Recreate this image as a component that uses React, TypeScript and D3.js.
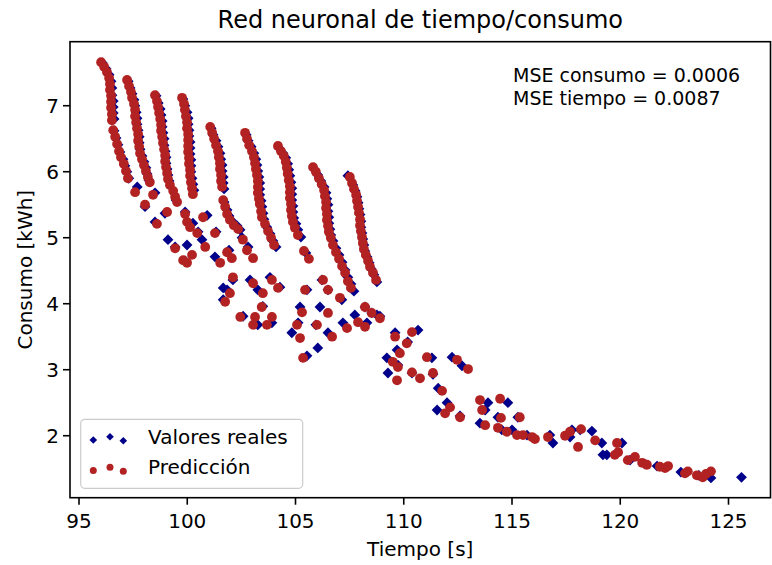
import React from "react";
import * as d3 from "d3";

// ---- Data (tiempo [s], consumo [kWh]) ----
const realStreakPoints: [number, number][] = [
  [96.07, 7.65], [96.25, 7.56], [96.39, 7.47], [96.48, 7.37], [96.52, 7.27], [96.52, 7.16], [96.58, 7.07], [96.58, 6.98], [96.58, 6.89], [96.62, 6.8], [96.62, 6.62], [96.71, 6.51], [96.8, 6.41], [96.89, 6.3], [97.03, 6.19], [97.12, 6.09], [97.21, 6.0], [97.3, 5.9],
  [97.27, 7.37], [97.36, 7.27], [97.45, 7.18], [97.54, 7.09], [97.58, 7.0], [97.64, 6.9], [97.68, 6.81], [97.68, 6.72], [97.73, 6.63], [97.78, 6.53], [97.78, 6.44], [97.82, 6.34], [97.91, 6.24], [98.0, 6.15], [98.09, 6.06], [98.14, 5.97], [98.23, 5.87],
  [98.56, 7.15], [98.66, 7.04], [98.75, 6.95], [98.79, 6.86], [98.84, 6.77], [98.84, 6.68], [98.88, 6.59], [98.93, 6.5], [98.93, 6.4], [98.98, 6.31], [99.02, 6.22], [99.02, 6.13], [99.07, 6.04], [99.11, 5.95], [99.16, 5.86],
  [99.8, 7.1], [99.89, 7.0], [99.99, 6.9], [100.04, 6.81], [100.04, 6.72], [100.08, 6.63], [100.08, 6.54], [100.13, 6.45], [100.13, 6.36], [100.13, 6.27], [100.17, 6.18], [100.17, 6.09], [100.17, 6.0], [100.22, 5.9], [100.26, 5.81], [100.31, 5.72],
  [101.1, 6.66], [101.19, 6.56], [101.33, 6.47], [101.42, 6.38], [101.51, 6.28], [101.55, 6.19], [101.61, 6.1], [101.61, 6.01], [101.66, 5.92], [101.66, 5.83], [101.7, 5.74], [101.7, 5.54], [101.84, 5.42], [101.93, 5.33], [102.11, 5.24], [102.3, 5.18], [102.44, 5.12], [102.53, 5.0], [102.81, 4.86],
  [102.72, 6.56], [102.81, 6.47], [102.95, 6.38], [103.08, 6.28], [103.17, 6.19], [103.22, 6.1], [103.26, 6.01], [103.31, 5.92], [103.35, 5.83], [103.35, 5.74], [103.35, 5.65], [103.41, 5.56], [103.45, 5.47], [103.5, 5.37], [103.54, 5.28], [103.68, 5.16], [103.82, 5.06], [103.96, 4.95], [104.1, 4.86],
  [104.23, 6.36], [104.42, 6.28], [104.55, 6.21], [104.64, 6.12], [104.69, 6.03], [104.74, 5.94], [104.79, 5.84], [104.83, 5.75], [104.83, 5.66], [104.83, 5.57], [104.88, 5.48], [104.88, 5.39], [104.92, 5.3], [105.02, 5.21], [105.11, 5.12], [105.25, 5.01], [105.48, 4.77],
  [105.85, 6.04], [106.03, 5.95], [106.17, 5.86], [106.32, 5.77], [106.41, 5.68], [106.45, 5.59], [106.5, 5.5], [106.5, 5.4], [106.54, 5.31], [106.54, 5.22], [106.59, 5.13], [106.63, 5.04], [106.73, 4.95], [106.87, 4.84], [107.01, 4.74], [107.15, 4.63], [107.29, 4.51], [107.42, 4.4], [107.56, 4.3], [107.7, 4.19],
  [107.42, 5.94], [107.65, 5.8], [107.75, 5.71], [107.84, 5.62], [107.89, 5.53], [107.93, 5.44], [107.98, 5.35], [108.02, 5.25], [108.02, 5.16], [108.07, 5.07], [108.11, 4.98], [108.16, 4.89], [108.2, 4.8], [108.3, 4.71], [108.4, 4.62], [108.49, 4.53], [108.62, 4.44], [108.76, 4.33],
];

const realScatterPoints: [number, number][] = [
  [97.69, 5.77], [98.51, 5.68], [98.05, 5.47], [98.97, 5.37], [98.51, 5.24], [99.11, 4.97], [99.48, 5.57], [99.9, 5.39], [100.26, 5.22], [100.5, 5.09],
  [100.68, 4.97], [99.99, 4.89], [100.92, 5.34], [101.33, 5.09], [101.28, 4.71], [101.93, 4.81], [102.11, 4.36], [101.66, 4.24], [101.66, 4.06], [102.9, 4.36],
  [103.26, 4.21], [103.82, 4.4], [104.28, 4.25], [102.58, 3.81], [103.26, 3.68], [103.91, 3.71], [105.21, 3.95], [104.83, 3.56], [106.13, 3.95], [106.5, 3.56],
  [106.22, 4.36], [105.53, 4.21], [106.03, 3.33], [105.53, 3.21], [106.5, 4.21], [107.14, 4.06], [105.12, 3.71], [107.19, 3.71], [107.74, 3.83], [108.3, 3.71],
  [109.6, 3.56], [110.66, 3.6], [108.76, 3.83], [108.9, 3.81], [110.18, 3.42], [109.69, 3.3], [109.22, 3.18], [109.73, 3.07], [109.27, 2.95], [110.38, 2.95],
  [111.3, 3.18], [111.35, 2.93], [112.23, 3.19], [112.69, 3.06], [111.59, 2.72], [112.0, 2.5], [111.54, 2.39], [113.89, 2.5], [113.76, 2.39], [113.52, 2.19],
  [114.81, 2.5], [114.35, 2.28], [115.27, 2.28], [114.53, 2.09], [115.0, 2.09], [115.69, 2.01], [116.75, 2.01], [116.89, 1.89], [117.68, 1.98], [117.77, 2.09],
  [118.69, 2.07], [119.15, 1.89], [120.08, 1.89], [119.2, 1.71], [119.38, 1.71], [121.7, 1.54], [122.8, 1.45], [124.19, 1.36], [125.6, 1.37], [99.9, 4.65],
  [103.49, 3.96], [105.94, 3.68], [112.6, 2.3], [120.45, 1.63], [121.14, 1.57], [123.63, 1.4], [108.21, 3.95], [108.52, 3.86], [118.15, 2.09], [101.84, 4.21], [99.44, 4.86],
];

const predStreakPoints: [number, number][] = [
  [96.02, 7.66], [96.16, 7.59], [96.29, 7.51], [96.39, 7.42], [96.43, 7.33], [96.43, 7.24], [96.48, 7.15], [96.48, 7.06], [96.48, 6.97], [96.52, 6.87], [96.52, 6.78], [96.58, 6.63], [96.67, 6.53], [96.76, 6.42], [96.85, 6.31], [96.94, 6.22], [97.07, 6.12], [97.17, 6.01], [97.26, 5.9],
  [97.22, 7.39], [97.31, 7.3], [97.4, 7.21], [97.45, 7.12], [97.54, 7.03], [97.59, 6.94], [97.59, 6.84], [97.64, 6.75], [97.68, 6.66], [97.73, 6.57], [97.73, 6.47], [97.78, 6.38], [97.82, 6.28], [97.91, 6.19], [98.0, 6.1], [98.09, 6.01], [98.18, 5.92], [98.27, 5.84],
  [98.51, 7.16], [98.6, 7.07], [98.65, 6.98], [98.7, 6.89], [98.75, 6.8], [98.79, 6.71], [98.79, 6.62], [98.84, 6.53], [98.88, 6.44], [98.93, 6.34], [98.98, 6.25], [98.98, 6.16], [99.02, 6.07], [99.07, 5.98], [99.11, 5.89], [99.2, 5.8], [99.35, 5.71], [99.44, 5.62],
  [99.76, 7.12], [99.85, 7.03], [99.89, 6.94], [99.94, 6.84], [99.99, 6.75], [99.99, 6.66], [100.04, 6.57], [100.04, 6.48], [100.04, 6.39], [100.04, 6.3], [100.08, 6.21], [100.08, 6.12], [100.13, 6.03], [100.13, 5.94], [100.17, 5.84], [100.22, 5.75], [100.26, 5.66],
  [101.06, 6.68], [101.15, 6.59], [101.24, 6.5], [101.33, 6.4], [101.42, 6.31], [101.46, 6.22], [101.51, 6.13], [101.51, 6.04], [101.56, 5.95], [101.56, 5.86], [101.61, 5.77], [101.66, 5.57], [101.75, 5.47], [101.84, 5.36], [101.97, 5.27], [102.15, 5.19], [102.35, 5.13], [102.57, 4.97], [102.76, 4.81], [103.04, 4.69],
  [102.67, 6.59], [102.76, 6.5], [102.86, 6.4], [102.99, 6.31], [103.08, 6.22], [103.13, 6.13], [103.17, 6.04], [103.22, 5.95], [103.26, 5.86], [103.26, 5.77], [103.26, 5.68], [103.31, 5.59], [103.35, 5.51], [103.41, 5.4], [103.45, 5.31], [103.59, 5.21], [103.73, 5.1], [103.87, 5.0], [104.01, 4.89],
  [104.19, 6.39], [104.33, 6.31], [104.46, 6.24], [104.55, 6.15], [104.6, 6.06], [104.64, 5.97], [104.69, 5.87], [104.74, 5.78], [104.74, 5.69], [104.74, 5.6], [104.79, 5.51], [104.79, 5.42], [104.83, 5.33], [104.88, 5.24], [104.97, 5.15], [105.11, 5.04], [105.39, 4.8], [105.62, 4.68],
  [105.81, 6.07], [105.94, 6.0], [106.08, 5.9], [106.21, 5.81], [106.32, 5.72], [106.36, 5.63], [106.41, 5.54], [106.41, 5.45], [106.45, 5.36], [106.45, 5.27], [106.5, 5.18], [106.54, 5.09], [106.63, 5.0], [106.73, 4.89], [106.87, 4.78], [107.01, 4.68], [107.15, 4.57], [107.29, 4.47], [107.42, 4.34], [107.56, 4.24],
  [107.51, 5.92], [107.61, 5.83], [107.7, 5.74], [107.8, 5.65], [107.84, 5.56], [107.89, 5.47], [107.93, 5.38], [107.98, 5.28], [107.98, 5.19], [108.02, 5.1], [108.07, 5.01], [108.11, 4.92], [108.16, 4.83], [108.25, 4.74], [108.35, 4.65], [108.44, 4.56], [108.58, 4.47], [108.72, 4.36],
];

const predScatterPoints: [number, number][] = [
  [97.59, 5.69], [98.42, 5.65], [98.05, 5.5], [99.07, 5.39], [98.6, 5.21], [99.44, 4.84], [99.53, 5.54], [99.9, 5.36], [99.99, 5.24], [100.13, 5.16],
  [100.46, 5.07], [100.83, 4.86], [100.22, 4.74], [99.81, 4.66], [99.99, 4.62], [100.73, 5.31], [101.28, 5.07], [101.52, 4.62], [101.84, 4.78], [102.06, 4.69],
  [102.11, 4.4], [101.97, 4.16], [101.75, 4.03], [103.04, 4.31], [103.49, 4.16], [103.91, 4.36], [104.19, 4.24], [102.45, 3.8], [103.13, 3.8], [103.04, 3.68],
  [103.91, 3.8], [103.68, 3.68], [103.44, 3.95], [105.3, 3.87], [105.07, 3.68], [105.21, 3.48], [105.99, 3.68], [106.27, 4.36], [105.44, 4.21], [105.35, 3.18],
  [106.5, 4.21], [107.05, 4.09], [106.5, 3.86], [106.69, 3.5], [107.38, 3.63], [107.89, 3.72], [108.21, 3.65], [109.6, 3.5], [110.38, 3.57], [108.21, 3.95],
  [108.52, 3.86], [108.9, 3.78], [110.14, 3.4], [109.82, 3.25], [109.49, 3.12], [109.73, 3.04], [109.69, 2.84], [110.38, 2.96], [110.75, 2.87], [111.07, 3.19],
  [111.35, 2.95], [112.46, 3.15], [112.97, 3.01], [111.77, 2.68], [112.14, 2.43], [111.91, 2.34], [112.6, 2.28], [113.52, 2.54], [113.62, 2.39], [113.76, 2.16],
  [114.45, 2.56], [114.49, 2.27], [115.36, 2.28], [114.35, 2.12], [114.76, 2.06], [115.23, 2.01], [115.51, 2.01], [115.93, 1.98], [116.06, 1.95], [116.66, 1.98],
  [117.45, 2.0], [117.68, 2.06], [118.05, 1.83], [118.19, 2.1], [118.84, 1.93], [119.85, 1.89], [119.75, 1.71], [119.9, 1.75], [120.35, 1.63], [120.68, 1.68],
  [121.01, 1.59], [121.23, 1.56], [121.83, 1.53], [122.07, 1.51], [122.21, 1.54], [122.99, 1.43], [123.12, 1.46], [123.54, 1.4], [123.81, 1.37], [123.96, 1.42],
  [124.19, 1.46],
];

const xTicks = [95, 100, 105, 110, 115, 120, 125];
const yTicks = [2, 3, 4, 5, 6, 7];
const titleText = "Red neuronal de tiempo/consumo";
const xLabel = "Tiempo [s]";
const yLabel = "Consumo [kWh]";
const mseLines = ["MSE consumo = 0.0006", "MSE tiempo = 0.0087"];
const legendLabels = ["Valores reales", "Predicción"];

const BLUE = "#00008b";
const RED = "#b22222";
const FONT = "'DejaVu Sans', sans-serif";

export default function App() {
  const W = 772;
  const H = 565;
  const L = 70, R = 770.5, T = 41.7, B = 497.7;
  const x = d3.scaleLinear().domain([94.584, 126.963]).range([L, 771]);
  const y = d3.scaleLinear().domain([1.061, 7.97]).range([B, T]);

  const realAll = [...realStreakPoints, ...realScatterPoints];
  const predAll = [...predStreakPoints, ...predScatterPoints];
  const diamond = (cx: number, cy: number, r: number) =>
    `M${cx},${cy - r}L${cx + r},${cy}L${cx},${cy + r}L${cx - r},${cy}Z`;

  const legX = [93.3, 110, 123.3];
  const legDy = [0, -3.3, 0.7];

  return (
    <svg
      width={W}
      height={H}
      style={{ position: "absolute", left: 0, top: 0, background: "#fff" }}
      fontFamily={FONT}
    >
      <rect x={0} y={0} width={W} height={H} fill="#fff" />
      <text x={(L + R) / 2} y={28} textAnchor="middle" fontSize={24} fill="#000">
        {titleText}
      </text>

      {/* points */}
      <g>
        {realAll.map((p, i) => (
          <path key={"r" + i} d={diamond(x(p[0]), y(p[1]), 5.4)} fill={BLUE} />
        ))}
      </g>
      <g>
        {predAll.map((p, i) => (
          <circle key={"p" + i} cx={x(p[0])} cy={y(p[1])} r={4.9} fill={RED} />
        ))}
      </g>

      {/* frame */}
      <rect x={L} y={T} width={R - L} height={B - T} fill="none" stroke="#000" strokeWidth={1.6} />

      {/* x ticks */}
      {xTicks.map((t) => (
        <g key={"xt" + t}>
          <line x1={x(t)} x2={x(t)} y1={B} y2={B + 7} stroke="#000" strokeWidth={1.6} />
          <text x={x(t)} y={528} textAnchor="middle" fontSize={20} fill="#000">
            {t}
          </text>
        </g>
      ))}
      {/* y ticks */}
      {yTicks.map((t) => (
        <g key={"yt" + t}>
          <line x1={L - 7} x2={L} y1={y(t)} y2={y(t)} stroke="#000" strokeWidth={1.6} />
          <text x={L - 11} y={y(t) + 7.2} textAnchor="end" fontSize={20} fill="#000">
            {t}
          </text>
        </g>
      ))}

      <text x={(L + R) / 2} y={556} textAnchor="middle" fontSize={20} fill="#000">
        {xLabel}
      </text>
      <text
        transform={`translate(32,${(T + B) / 2}) rotate(-90)`}
        textAnchor="middle"
        fontSize={20}
        fill="#000"
      >
        {yLabel}
      </text>

      {/* MSE annotation */}
      {mseLines.map((s, i) => (
        <text key={"m" + i} x={513} y={82 + i * 23} fontSize={19} fill="#000">
          {s}
        </text>
      ))}

      {/* legend */}
      <rect x={80.7} y={419.3} width={222} height={69} rx={4} ry={4} fill="#fff" fillOpacity={0.8} stroke="#cccccc" strokeWidth={1.2} />
      {legX.map((lx, i) => (
        <path key={"lr" + i} d={diamond(lx, 440 + legDy[i], 3.8)} fill={BLUE} />
      ))}
      {legX.map((lx, i) => (
        <circle key={"lp" + i} cx={lx} cy={470.5 + legDy[i]} r={3.5} fill={RED} />
      ))}
      <text x={148} y={444} fontSize={20} fill="#000">
        {legendLabels[0]}
      </text>
      <text x={148} y={474} fontSize={20} fill="#000">
        {legendLabels[1]}
      </text>
    </svg>
  );
}
